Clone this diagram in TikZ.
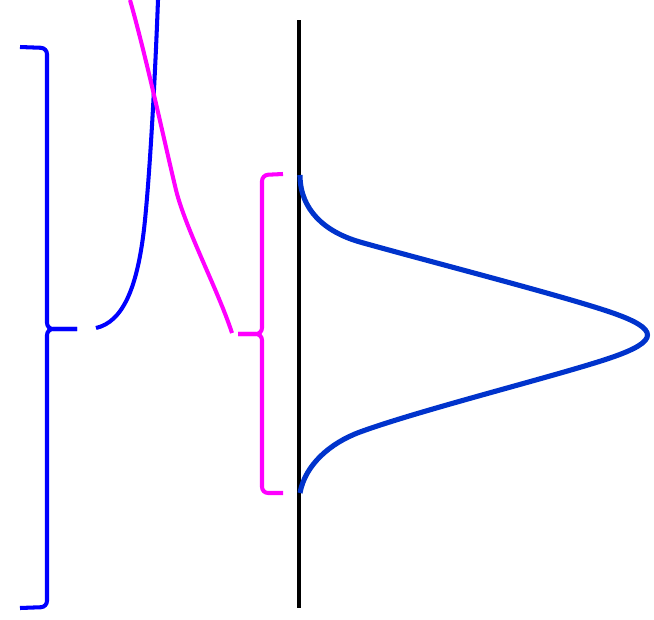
\documentclass[tikz,border=0pt]{standalone}
\usepackage{tikz}

\definecolor{pureblue}{RGB}{0,0,255}
\definecolor{puremagenta}{RGB}{255,0,255}
\definecolor{bellblue}{RGB}{0,51,204}

\begin{document}
\begin{tikzpicture}[
  x=0.02cm, y=-0.02cm,
  axis/.style={draw=black, line width=1.9pt},
  bigbrace/.style={draw=pureblue, line width=2.3pt, rounded corners=3.5pt},
  smallbrace/.style={draw=puremagenta, line width=2.3pt, rounded corners=3.5pt},
  risecurve/.style={draw=pureblue, line width=2.3pt},
  fallcurve/.style={draw=puremagenta, line width=2.3pt},
  bellcurve/.style={draw=bellblue, line width=2.9pt}
]
\useasboundingbox (0,0) rectangle (654,620);

\coordinate (axtop) at (299,20);
\coordinate (axbot) at (299,608);
\coordinate (bigtop) at (20,47);
\coordinate (bigbot) at (20,608);
\coordinate (bigtip) at (77,329);
\coordinate (smalltop) at (283,174);
\coordinate (smallbot) at (283,493);
\coordinate (smalltip) at (238,334);
\coordinate (bellstart) at (300,175);
\coordinate (bellend) at (300,493);

\draw[axis] (axtop) -- (axbot);

\draw[bigbrace] (bigtop) -- (47,48) -- (47,329) -- (bigtip);
\draw[bigbrace] (bigbot) -- (47,607) -- (47,329) -- (bigtip);

\draw[smallbrace] (smalltop) -- (262,175) -- (262,334) -- (smalltip);
\draw[smallbrace] (smallbot) -- (262,493) -- (262,334) -- (smalltip);

\draw[risecurve] (96,328) .. controls (122,322) and (138,290) .. (145,220)
  .. controls (150,170) and (155,80) .. (158,0);

\draw[fallcurve] (130,0) .. controls (147,60) and (164,140) .. (176,190)
  .. controls (186,230) and (218,290) .. (232,333);

\draw[bellcurve] (bellstart) .. controls (300,210) and (325,232) .. (360,242)
  .. controls (420,259) and (560,295) .. (610,312)
  .. controls (660,329) and (660,341) .. (610,358)
  .. controls (560,375) and (420,410) .. (360,432)
  .. controls (330,443) and (305,465) .. (bellend);

\end{tikzpicture}
\end{document}
